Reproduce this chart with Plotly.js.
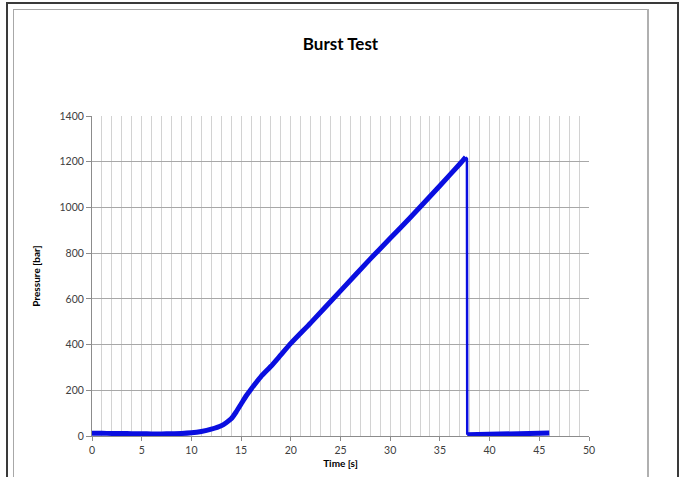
<!DOCTYPE html>
<html>
<head>
<meta charset="utf-8">
<script src="https://cdn.plot.ly/plotly-3.0.1.min.js"></script>
<style>
  html, body { margin: 0; padding: 0; background: #ffffff; }
  #wrap { position: relative; width: 681px; height: 477px; overflow: hidden; }
  #chart { position: absolute; left: 0; top: 0; width: 681px; height: 477px; }
  .fr { position: absolute; pointer-events: none; }
</style>
</head>
<body>
<div id="wrap">
  <div id="chart"></div>
  <div class="fr" style="left:6px; top:2px; width:673px; height:2px; background:#3a3a3a;"></div>
  <div class="fr" style="left:6px; top:2px; width:2px; height:475px; background:#3a3a3a;"></div>
  <div class="fr" style="left:677px; top:2px; width:2px; height:475px; background:#3a3a3a;"></div>
  <div class="fr" style="left:13px; top:9px; width:634px; height:1px; background:#a8a8a8;"></div>
  <div class="fr" style="left:13px; top:9px; width:1px; height:468px; background:#a8a8a8;"></div>
  <div class="fr" style="left:647px; top:9px; width:2px; height:468px; background:#b0b0b0;"></div>
</div>
<script>
// Pressure rise phase
const riseTime = [0, 1, 2, 3, 4, 5, 6, 7, 8, 9, 10, 11, 12, 13, 13.5, 14, 14.5, 15, 15.5, 16, 17, 18, 19, 20, 22, 25, 28, 30, 32, 35, 37, 37.6];
const risePressure = [12, 12, 11, 11, 10, 10, 9, 9, 10, 11, 14, 20, 30, 45, 58, 75, 105, 140, 175, 205, 260, 305, 355, 405, 495, 635, 775, 865, 955, 1095, 1190, 1220];
// Burst (sudden drop)
const dropTime = [37.6, 37.72, 37.75];
const dropPressure = [1220, 1212, 6];
// After burst
const postTime = [37.75, 39, 40, 41, 42, 43, 44, 45, 46];
const postPressure = [6, 6, 7, 8, 9, 10, 11, 12, 13];

const yTicks = [0, 200, 400, 600, 800, 1000, 1200, 1400];
const xTicks = [0, 5, 10, 15, 20, 25, 30, 35, 40, 45, 50];

const fontFam = 'Lato, "Open Sans", "Liberation Sans", sans-serif';
const lineColor = '#0a0ee0';

const traces = [
  { x: riseTime, y: risePressure, type: 'scatter', mode: 'lines',
    line: { color: lineColor, width: 5, shape: 'spline', smoothing: 0.5 }, hoverinfo: 'skip' },
  { x: dropTime, y: dropPressure, type: 'scatter', mode: 'lines',
    line: { color: lineColor, width: 2.5 }, hoverinfo: 'skip' },
  { x: postTime, y: postPressure, type: 'scatter', mode: 'lines',
    line: { color: lineColor, width: 5 }, hoverinfo: 'skip' }
];

const layout = {
  width: 681, height: 477,
  margin: { l: 92, r: 92, t: 116, b: 41 },
  paper_bgcolor: 'rgba(0,0,0,0)',
  plot_bgcolor: '#ffffff',
  showlegend: false,
  title: {
    text: '<b>Burst Test</b>',
    font: { family: fontFam, size: 17, color: '#000000' },
    x: 0.5, xref: 'paper', xanchor: 'center',
    y: 1 - 44 / 477, yref: 'container', yanchor: 'middle'
  },
  xaxis: {
    range: [0, 50], tickvals: xTicks, ticktext: xTicks.map(String),
    showgrid: true, gridcolor: '#d2d2d2', gridwidth: 1,
    minor: { dtick: 1, showgrid: true, gridcolor: '#d2d2d2', gridwidth: 1 },
    showline: true, linecolor: '#8c8c8c', linewidth: 1,
    ticks: 'outside', ticklen: 4, tickcolor: '#8c8c8c',
    zeroline: false,
    tickfont: { family: fontFam, size: 10.5, color: '#404040' },
    title: { text: '<b>Time [s]</b>', font: { family: fontFam, size: 10, color: '#000000' }, standoff: 5 }
  },
  yaxis: {
    range: [0, 1400], tickvals: yTicks, ticktext: yTicks.map(String),
    showgrid: true, gridcolor: '#a8a8a8', gridwidth: 1,
    showline: true, linecolor: '#8c8c8c', linewidth: 1,
    ticks: 'outside', ticklen: 5, tickcolor: '#8c8c8c',
    zeroline: false,
    tickfont: { family: fontFam, size: 10.5, color: '#404040' },
    title: { text: '<b>Pressure [bar]</b>', font: { family: fontFam, size: 10, color: '#000000' }, standoff: 17 }
  }
};

Plotly.newPlot('chart', traces, layout, { displayModeBar: false, staticPlot: true });
</script>
</body>
</html>
